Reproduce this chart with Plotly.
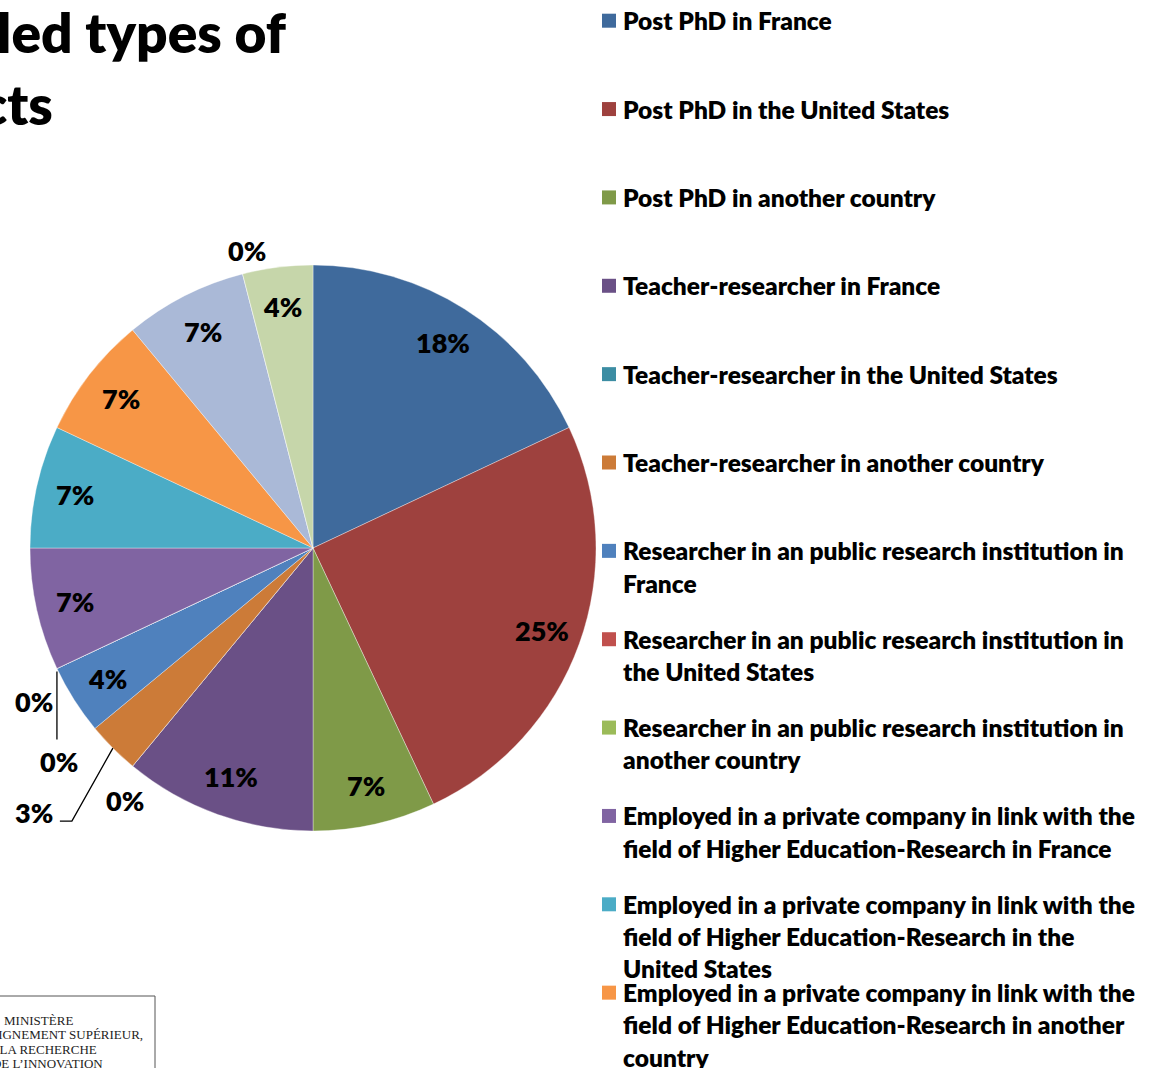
import math
import textwrap
import plotly.graph_objects as go

W, H = 1149, 1068

# ---- data -------------------------------------------------------------
categories = [
    "Post PhD in France",
    "Post PhD in the United States",
    "Post PhD in another country",
    "Teacher-researcher in France",
    "Teacher-researcher in the United States",
    "Teacher-researcher in another country",
    "Researcher in an public research institution in France",
    "Researcher in an public research institution in the United States",
    "Researcher in an public research institution in another country",
    "Employed in a private company in link with the field of Higher Education-Research in France",
    "Employed in a private company in link with the field of Higher Education-Research in the United States",
    "Employed in a private company in link with the field of Higher Education-Research in another country",
    "Employed in a private company outside the field of Higher Education-Research in France",
    "Employed in a private company outside the field of Higher Education-Research in the United States",
    "Employed in a private company outside the field of Higher Education-Research in another country",
]
shares = [18, 25, 7, 11, 0, 3, 4, 0, 0, 7, 7, 7, 7, 0, 4]

colors = [
    "#3F6A9C", "#9E413E", "#7F9A48", "#6A5086", "#3C8DA3", "#CC7B38",
    "#4F81BD", "#C0504D", "#9BBB59", "#8064A2", "#4BACC6", "#F79646",
    "#AAB9D7", "#D9AAA9", "#C6D6AA",
]

title_lines = ["Detailed types of", "contracts"]
logo_lines = ["MINISTÈRE", "DE L’ENSEIGNEMENT SUPÉRIEUR,", "DE LA RECHERCHE", "ET DE L’INNOVATION"]

# ---- layout constants -------------------------------------------------
FONT = "Lato"
WEIGHT = 800
CX, CY, R = 313, 548, 283          # pie centre / radius in page pixels
INSIDE_K = 0.86                    # label radius (fraction of R) for labels on the slices

# thin slices get their label outside: offset of the label from the slice
# edge point, plus an optional leader polyline (relative to the edge point)
outside_layout = {
    4: dict(offset=(-8, 34), leader=None),
    5: dict(offset=(-79, 64), leader=[(0, 0), (-41, 73), (-53, 73)]),
    7: dict(offset=(-23, 33), leader=None),
    8: dict(offset=(2, 93), leader=[(0, 3), (0, 71)]),
    13: dict(offset=(4, -23), leader=None),
}


def px(x):
    return x / W


def py(y):
    return 1 - y / H


fig = go.Figure(
    go.Pie(
        labels=categories,
        values=shares,
        sort=False,
        direction="clockwise",
        rotation=0,
        marker=dict(colors=colors, line=dict(color="rgba(255,255,255,0.6)", width=0.6)),
        textinfo="none",
        domain=dict(x=[px(CX - R), px(CX + R)], y=[py(CY + R), py(CY - R)]),
        showlegend=False,
        hoverinfo="label+percent",
    )
)

annotations = []
shapes = []

# ---- data labels ------------------------------------------------------
total = sum(shares)
cum = 0.0
for i, v in enumerate(shares):
    start = cum
    cum += v
    ang = math.radians(360 * (start + v / 2) / total)
    if i in outside_layout:
        # label hangs off the slice's outer edge
        ex, ey = CX + R * math.sin(ang), CY - R * math.cos(ang)
        spec = outside_layout[i]
        lx, ly = ex + spec["offset"][0], ey + spec["offset"][1]
        if spec["leader"]:
            pts = [(ex + dx, ey + dy) for dx, dy in spec["leader"]]
            path = "M " + " L ".join(f"{px(x):.5f},{py(y):.5f}" for x, y in pts)
            shapes.append(dict(type="path", xref="paper", yref="paper", path=path,
                               line=dict(color="black", width=1.3)))
    else:
        lx = CX + INSIDE_K * R * math.sin(ang)
        ly = CY - INSIDE_K * R * math.cos(ang)
    annotations.append(dict(text=f"{v}%", x=px(lx), y=py(ly), xref="paper", yref="paper",
                            xanchor="center", yanchor="middle", showarrow=False,
                            font=dict(family=FONT, size=27, color="black", weight=WEIGHT)))

# ---- slide title, running off the left edge --------------------------
annotations.append(dict(text=title_lines[0], x=px(289), y=py(32), xref="paper", yref="paper",
                        xanchor="right", yanchor="middle", showarrow=False,
                        font=dict(family=FONT, size=55, color="black", weight=WEIGHT)))
annotations.append(dict(text=title_lines[1], x=px(55), y=py(104), xref="paper", yref="paper",
                        xanchor="right", yanchor="middle", showarrow=False,
                        font=dict(family=FONT, size=55, color="black", weight=WEIGHT)))

# ---- legend: square swatch + wrapped label per category ---------------
pitch = 88.36
for i, (name, col) in enumerate(zip(categories, colors)):
    yc = 20.7 + pitch * i
    shapes.append(dict(type="rect", xref="paper", yref="paper",
                       x0=px(602), x1=px(616), y0=py(yc - 7), y1=py(yc + 7),
                       fillcolor=col, line=dict(width=0)))
    for j, line in enumerate(textwrap.wrap(name, 47, break_on_hyphens=False)):
        annotations.append(dict(text=line, x=px(621), y=py(yc + 32.2 * j),
                                xref="paper", yref="paper", xanchor="left", yanchor="middle",
                                showarrow=False,
                                font=dict(family=FONT, size=24.5, color="black", weight=WEIGHT)))

# ---- ministry logo block in the lower-left corner ---------------------
shapes.append(dict(type="rect", xref="paper", yref="paper",
                   x0=px(-10), x1=px(155), y0=py(996), y1=py(1100),
                   fillcolor="white", line=dict(color="#555555", width=1)))
for k, line in enumerate(logo_lines):
    annotations.append(dict(text=line, x=px(38), y=py(1020 + 14.5 * k), xref="paper", yref="paper",
                            xanchor="center", yanchor="middle", showarrow=False,
                            font=dict(family="Liberation Serif", size=13, color="#222222")))

fig.update_layout(
    width=W,
    height=H,
    margin=dict(l=0, r=0, t=0, b=0),
    paper_bgcolor="white",
    plot_bgcolor="white",
    annotations=annotations,
    shapes=shapes,
)

fig.write_html("out.html")
